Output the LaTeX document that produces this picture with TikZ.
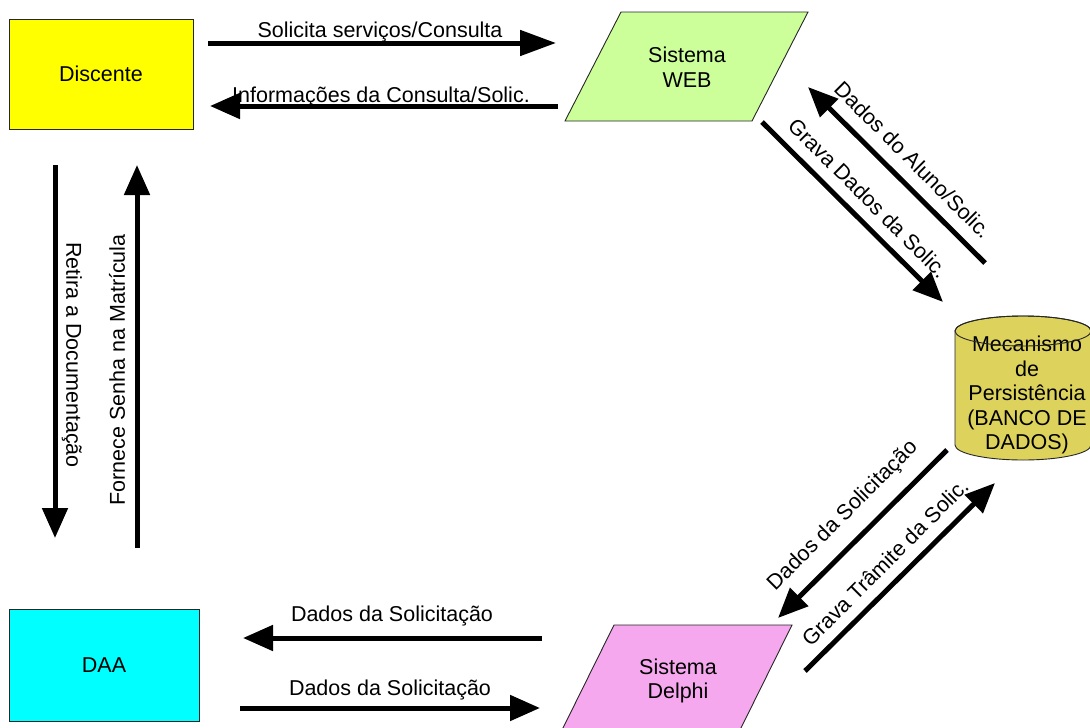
\documentclass[tikz,border=0pt]{standalone}
\usepackage{fontspec}
\setmainfont{Liberation Sans}
\usetikzlibrary{arrows.meta}
\definecolor{webgreen}{RGB}{204,255,153}
\definecolor{delphipink}{RGB}{245,168,238}
\definecolor{dbyellow}{RGB}{221,210,92}
\definecolor{boxyellow}{RGB}{255,255,0}
\definecolor{boxcyan}{RGB}{0,255,255}
\begin{document}
\begin{tikzpicture}[x=1pt,y=-1pt,
  every node/.style={font=\fontsize{21.5}{24.5}\selectfont, inner sep=0pt, text=black},
  flow/.style={line width=5pt, -{Triangle[length=30pt,width=25pt]}},
  box/.style={draw=black!85, line width=0.9pt, inner sep=0pt},
  shapeline/.style={draw=black!85, line width=0.9pt},
  lbl/.style={align=center}
]
\useasboundingbox (0,0) rectangle (1090,728);

% ---- actors ----
\node[box, fill=boxyellow, minimum width=184pt, minimum height=110pt] (disc) at (101,74) {Discente};
\node[box, fill=boxcyan, minimum width=190pt, minimum height=112pt] (daa) at (104,665) {DAA};

% ---- Sistema WEB ----
\path[shapeline, fill=webgreen] (621,12) -- (808,12) -- (752,121) -- (565,121) -- cycle;
\node[lbl] (web) at (687,67) {Sistema\\WEB};

% ---- Sistema Delphi ----
\path[shapeline, fill=delphipink] (614,625) -- (792,625) -- (739,732) -- (561,732) -- cycle;
\node[lbl] (delphi) at (678,681) {Sistema\\Delphi};

% ---- database cylinder ----
\path[shapeline, fill=dbyellow] (955,331) -- (955,445)
   arc[start angle=180, end angle=0, x radius=68, y radius=15]
   -- (1091,331) arc[start angle=0, end angle=-180, x radius=68, y radius=15] -- cycle;
\node[lbl] (db) at (1027,395) {Mecanismo\\de\\Persistência\\(BANCO DE\\DADOS)};
\draw[shapeline] (1023,331) ellipse[x radius=68, y radius=15];

% ---- connector end points ----
\coordinate (a1s) at (208,43);  \coordinate (a1e) at (556,43);
\coordinate (a2s) at (558,106); \coordinate (a2e) at (210,106);
\coordinate (a3s) at (55,165);  \coordinate (a3e) at (55,538);
\coordinate (a4s) at (137,548); \coordinate (a4e) at (137,165);
\coordinate (a5s) at (762,122); \coordinate (a5e) at (943,302);
\coordinate (a6s) at (985,263); \coordinate (a6e) at (808,87);
\coordinate (a7s) at (947,450); \coordinate (a7e) at (778,618);
\coordinate (a8s) at (805,671); \coordinate (a8e) at (995,483);
\coordinate (a9s) at (542,638); \coordinate (a9e) at (243,638);
\coordinate (a10s) at (240,708); \coordinate (a10e) at (540,708);

% ---- connectors ----
\draw[line width=5pt, -{Triangle[length=36pt,width=25pt]}] (a1s) -- (a1e);
\draw[flow] (a2s) -- (a2e);
\draw[flow] (a3s) -- (a3e);
\draw[flow] (a4s) -- (a4e);
\draw[flow] (a5s) -- (a5e);
\draw[flow] (a6s) -- (a6e);
\draw[flow] (a7s) -- (a7e);
\draw[flow] (a8s) -- (a8e);
\draw[flow] (a9s) -- (a9e);
\draw[flow] (a10s) -- (a10e);

% ---- labels ----
\node[anchor=base] (l1) at (380,37) {Solicita serviços/Consulta};
\node[anchor=base] (l2) at (381,102) {Informações da Consulta/Solic.};
\node[rotate=-90] (l3) at (72,355) {Retira a Documentação};
\node[rotate=90] (l4) at (117,370) {Fornece Senha na Matrícula};
\node[rotate=-45] (l5) at (868,198) {Grava Dados da Solic.};
\node[rotate=-45] (l6) at (913,160) {Dados do Aluno/Solic.};
\node[rotate=45] (l7) at (843,516) {Dados da Solicitação};
\node[rotate=45] (l8) at (885,562) {Grava Trâmite da Solic.};
\node[anchor=base] (l9) at (392,621) {Dados da Solicitação};
\node[anchor=base] (l10) at (390,695) {Dados da Solicitação};
\end{tikzpicture}
\end{document}
